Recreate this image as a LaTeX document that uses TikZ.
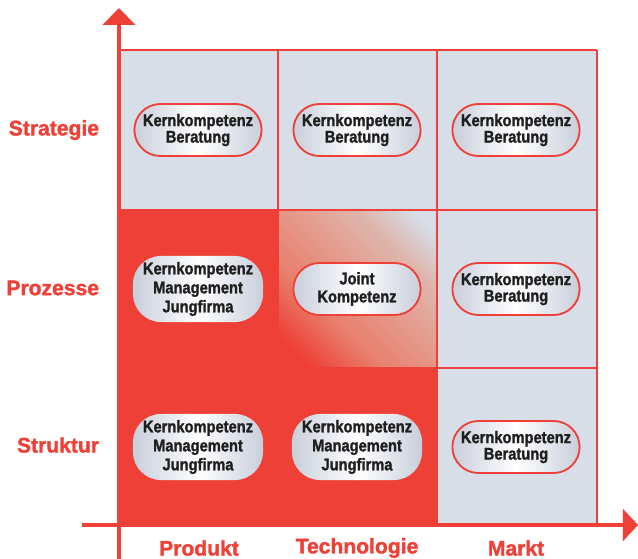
\documentclass[tikz,border=0pt]{standalone}
\usepackage{fontspec}
\setmainfont{Liberation Sans}
\newfontfamily\schrift{Liberation Sans Bold}[FakeStretch=0.87, FakeBold=1.5]
\newfontfamily\achsenschrift{Liberation Sans Bold}[FakeBold=1.5]
\usetikzlibrary{shapes.misc,arrows.meta}
\definecolor{rot}{RGB}{238,64,54}
\definecolor{feld}{RGB}{215,222,232}
\definecolor{pille}{RGB}{200,206,218}
\definecolor{lachs}{RGB}{232,128,110}
\definecolor{misch}{RGB}{228,158,144}
\definecolor{rosa}{RGB}{222,182,174}
\pgfdeclareverticalshading{diagonale}{100bp}{color(0bp)=(rot); color(22bp)=(rot); color(38bp)=(lachs);
  color(55bp)=(misch); color(68bp)=(rosa); color(80bp)=(feld); color(100bp)=(feld)}

\tikzset{
  kompetenz/.style={rounded rectangle, draw=rot, line width=1.3pt, left color=pille, right color=pille, middle color=white,
    minimum width=3.25cm, minimum height=1.3cm, align=center, inner sep=1pt,
    font=\schrift\fontsize{12}{11.7}\selectfont, text=black!88},
  dreizeilig/.style={rectangle, rounded corners=0.7cm, left color=pille, right color=pille, middle color=white,
    minimum width=3.25cm, minimum height=1.65cm, align=center, inner sep=1pt,
    font=\schrift\fontsize{12}{13.5}\selectfont, text=black!88},
  achse/.style={text=rot, font=\achsenschrift\fontsize{15}{17}\selectfont}
}

\begin{document}
\begin{tikzpicture}[x=0.025cm, y=-0.025cm]
    \useasboundingbox (0,0) rectangle (638,559);
    % Felder
    \fill[feld] (119,50) rectangle (597,210);
    \fill[feld] (437,210) rectangle (597,525);
    \fill[rot] (119,210) rectangle (278,525) (278,368) rectangle (437,525);
    \shade[shading=diagonale, shading angle=-45] (278,210) rectangle (437,368);
    % Raster
    \draw[rot, line width=1.4pt] (119,50) -- (597,50) (119,210) -- (597,210) (119,368) -- (597,368);
    \draw[rot, line width=1.4pt] (278,50) -- (278,525) (437,50) -- (437,525) (597,50) -- (597,525);
    % Achsen
    \draw[rot, line width=2.2pt, -{Triangle[width=0.8cm,length=0.42cm]}] (119,559) -- (119,8);
    \draw[rot, line width=2.2pt, -{Triangle[width=0.8cm,length=0.38cm]}] (82,525) -- (638,525);

    \node[kompetenz] (s1) at (198,130) {Kernkompetenz\\Beratung};
    \node[kompetenz] (s2) at (357,130) {Kernkompetenz\\Beratung};
    \node[kompetenz] (s3) at (516,130) {Kernkompetenz\\Beratung};
    \node[dreizeilig] (p1) at (198,289) {Kernkompetenz\\Management\\Jungfirma};
    \node[kompetenz, font=\schrift\fontsize{12}{12.8}\selectfont] (p2) at (357,289) {Joint\\Kompetenz};
    \node[kompetenz] (p3) at (516,289) {Kernkompetenz\\Beratung};
    \node[dreizeilig] (t1) at (198,447) {Kernkompetenz\\Management\\Jungfirma};
    \node[dreizeilig] (t2) at (357,447) {Kernkompetenz\\Management\\Jungfirma};
    \node[kompetenz] (t3) at (516,447) {Kernkompetenz\\Beratung};

    \node[achse, anchor=east] (strategie) at (104,130) {Strategie};
    \node[achse, anchor=east] (prozesse) at (104,288) {Prozesse};
    \node[achse, anchor=east] (struktur) at (104,445) {Struktur};
    \node[achse] (produkt) at (199,548) {Produkt};
    \node[achse] (technologie) at (357,548) {Technologie};
    \node[achse] (markt) at (516,548) {Markt};
\end{tikzpicture}
\end{document}
